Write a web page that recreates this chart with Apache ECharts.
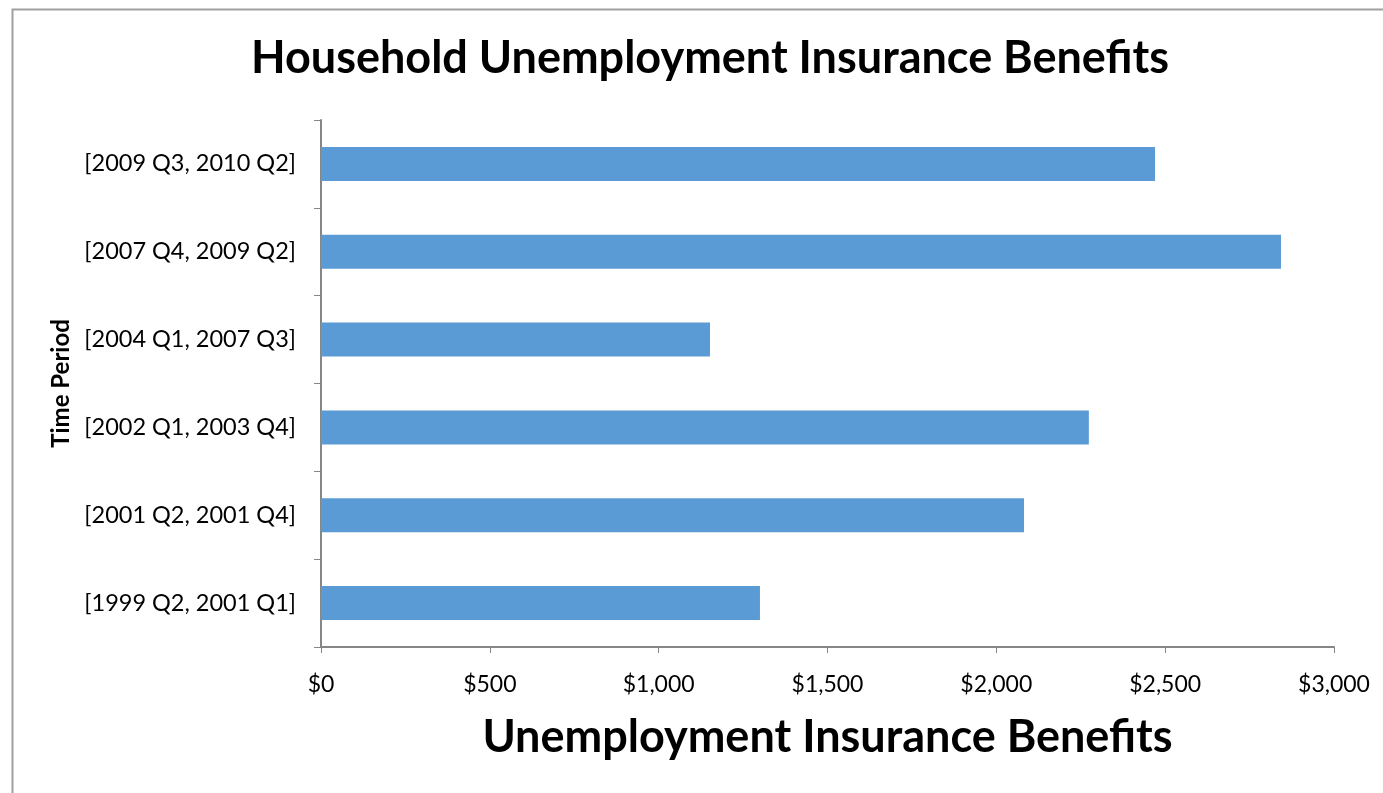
<!DOCTYPE html>
<html>
<head>
<meta charset="utf-8">
<script src="https://cdn.jsdelivr.net/npm/echarts@6/dist/echarts.min.js"></script>
<style>
html,body{margin:0;padding:0;background:#fff;}
#chart{width:1383px;height:793px;}
</style>
</head>
<body>
<div id="chart"></div>
<script>
const categories = ["[1999 Q2, 2001 Q1]", "[2001 Q2, 2001 Q4]", "[2002 Q1, 2003 Q4]", "[2004 Q1, 2007 Q3]", "[2007 Q4, 2009 Q2]", "[2009 Q3, 2010 Q2]"];
const benefits = [1300, 2082, 2274, 1152, 2843, 2470];
const xTicks = [0, 500, 1000, 1500, 2000, 2500, 3000];

const FONT = "Lato";
const chart = echarts.init(document.getElementById('chart'), null, {renderer: 'canvas'});
chart.setOption({
  animation: false,
  backgroundColor: '#fff',
  graphic: [{
    type: 'rect', left: 10, top: 7,
    shape: {width: 1400, height: 820},
    style: {fill: 'none', stroke: '#a0a0a0', lineWidth: 2}
  }],
  title: {
    text: 'Household Unemployment Insurance Benefits',
    left: 705, top: 31, textAlign: 'center',
    textStyle: {fontFamily: FONT, fontWeight: 'bold', fontSize: 45, color: '#000'}
  },
  grid: {left: 321, right: 1383 - 1334, top: 120, bottom: 793 - 647, containLabel: false},
  xAxis: {
    type: 'value', min: 0, max: 3000, interval: 500,
    name: 'Unemployment Insurance Benefits', nameLocation: 'middle', nameGap: 68,
    nameTextStyle: {fontFamily: FONT, fontWeight: 'bold', fontSize: 45, color: '#000'},
    axisLine: {show: true, lineStyle: {color: '#868686', width: 2}},
    axisTick: {show: true, length: 6, lineStyle: {color: '#868686', width: 1}},
    splitLine: {show: false},
    axisLabel: {
      margin: 26, fontFamily: FONT, fontSize: 23, color: '#000',
      formatter: v => '$' + v.toLocaleString('en-US')
    }
  },
  yAxis: {
    type: 'category', data: categories,
    name: 'Time Period', nameLocation: 'middle', nameGap: 247, nameRotate: 90,
    nameTextStyle: {fontFamily: FONT, fontWeight: 'bold', fontSize: 24, color: '#000'},
    axisLine: {show: true, lineStyle: {color: '#868686', width: 2}},
    axisTick: {show: true, length: 7, inside: false, lineStyle: {color: '#868686', width: 1}},
    axisLabel: {margin: 25, fontFamily: FONT, fontSize: 23.5, color: '#000'}
  },
  series: [{
    type: 'bar', data: benefits, barWidth: 34,
    itemStyle: {color: '#5B9BD5'}
  }]
});
</script>
</body>
</html>
